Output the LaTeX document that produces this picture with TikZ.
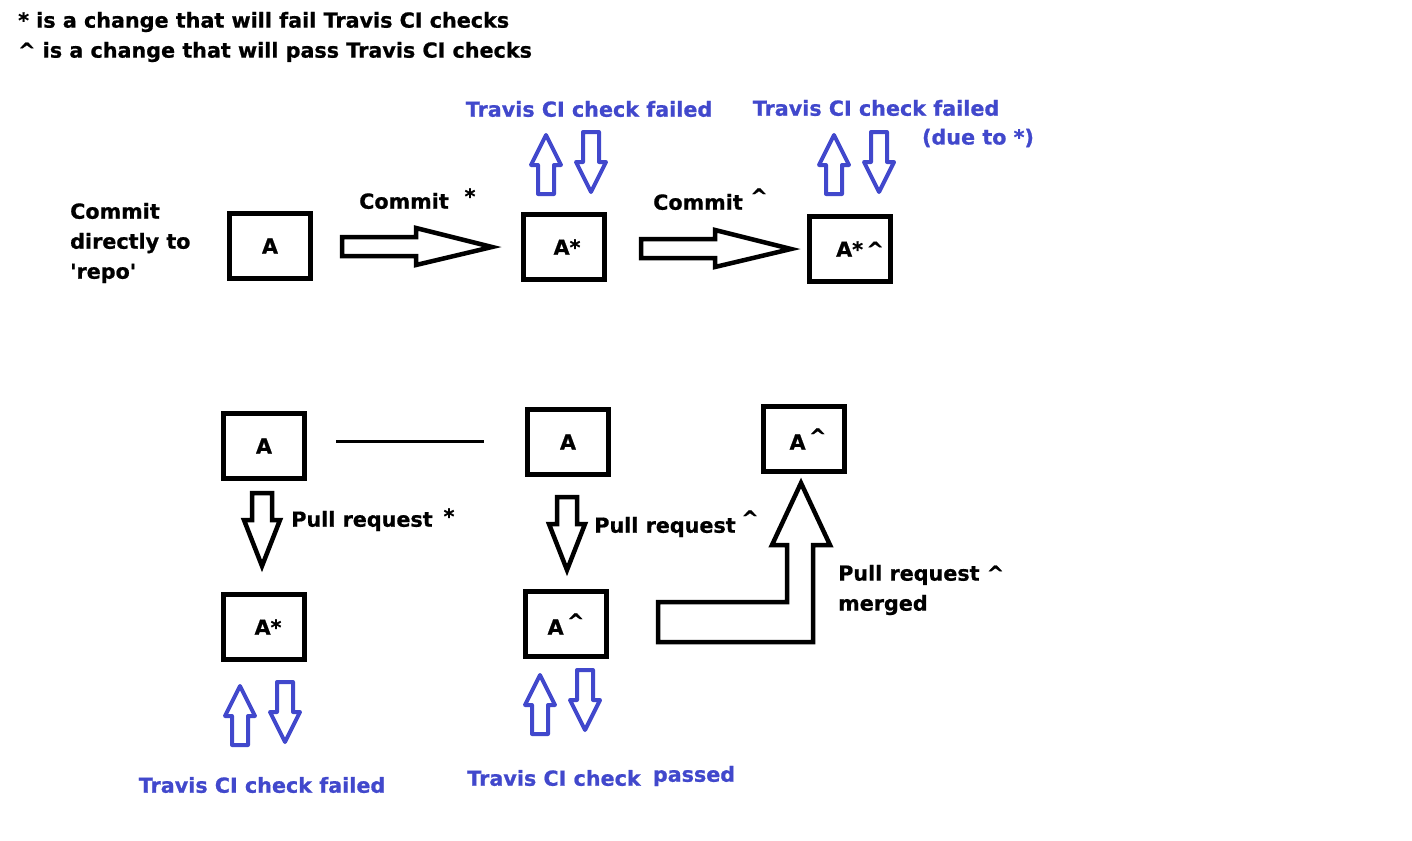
\documentclass[tikz,border=0pt]{standalone}
\usepackage{fontspec}
\setmainfont{DejaVu Sans}
\newfontfamily\hv[FakeBold=0.8]{DejaVu Sans Bold}
\definecolor{tblue}{RGB}{65,72,204}
\begin{document}
\begin{tikzpicture}[x=1pt,y=-1pt,
  txt/.style={font=\hv\fontsize{20.7}{30}\selectfont, inner sep=0pt},
  btxt/.style={txt, text=tblue},
  box/.style={draw=black, line width=5pt, minimum width=81pt, minimum height=65pt, inner sep=0pt, font=\hv\fontsize{20.7}{24}\selectfont},
  barrow/.style={draw=black, line width=4.5pt, line join=miter},
  carrow/.style={draw=tblue, line width=4pt, line join=round},
  vup/.pic={\draw[carrow] (0,0) -- (15,30) -- (8,30) -- (8,59) -- (-8,59) -- (-8,30) -- (-15,30) -- cycle;},
  vdown/.pic={\draw[carrow] (0,0) -- (15,-30) -- (8,-30) -- (8,-60) -- (-8,-60) -- (-8,-30) -- (-15,-30) -- cycle;},
  hright/.pic={\draw[barrow] (0,0) -- (-76,-19) -- (-76,-10) -- (-150,-10) -- (-150,9) -- (-76,9) -- (-76,18) -- cycle;},
  kdown/.pic={\draw[barrow] (0,0) -- (18,-46) -- (10,-46) -- (10,-73) -- (-10,-73) -- (-10,-46) -- (-18,-46) -- cycle;}
]
\useasboundingbox (0,0) rectangle (1412,840);
\fill[white] (0,0) rectangle (1412,840);

% legend
\node[txt, anchor=west] (leg1) at (18,22) {* is a change that will fail Travis CI checks};
\node[txt, anchor=west] (leg2) at (18,52) {\^{} is a change that will pass Travis CI checks};

% top row
\node[txt, anchor=west, align=left] (direct) at (70,243) {Commit\\directly to\\\textquotesingle repo\textquotesingle};
\node[box] (t1) at (270,246) {A};
\node[box] (t2) at (564,247) {\hspace*{6pt}A*};
\node[box] (t3) at (850,249) {\hspace*{20pt}A*\,\^{}};

\pic at (492,247) {hright};
\node[txt] (c1) at (404,201) {Commit};
\node[txt] (s1) at (470,196) {*};
\pic at (791,249) {hright};
\node[txt] (c2) at (698,202) {Commit};
\node[txt] (s2) at (759,196) {\^{}};

\pic at (546,135) {vup};
\pic at (591,192) {vdown};
\node[btxt] (f1) at (589,109) {Travis CI check failed};
\pic at (834,135) {vup};
\pic at (879,192) {vdown};
\node[btxt] (f2) at (876,108) {Travis CI check failed};
\node[btxt] (due) at (978,138) {(due to *)};

% bottom
\node[box] (b1) at (264,446) {A};
\node[box] (b2) at (568,442) {A};
\node[box] (b3) at (804,439) {\hspace*{8pt}A\,\raisebox{6pt}{\^{}}};
\draw[line width=3pt] (b1.east) ++(29,-5) coordinate (l1) -- (484,441) coordinate (l2);

\pic at (262,566) {kdown};
\node[txt] (p1) at (362,521) {Pull request};
\node[txt] (p1s) at (449,516) {*};
\pic at (567,570) {kdown};
\node[txt] (p2) at (665,527) {Pull request};
\node[txt] (p2s) at (750,518) {\^{}};

\node[box] (b4) at (264,627) {\hspace*{8pt}A*};
\node[box] (b5) at (566,624) {A\,\raisebox{6pt}{\^{}}};

\draw[barrow] (658,602) -- (787,602) -- (787,545) -- (772,545) -- (801,483) -- (830,545) -- (813,545) -- (813,642) -- (658,642) -- cycle;
\node[txt, anchor=west, align=left] (merged) at (838,590) {Pull request \^{}\\merged};

\pic at (240,686) {vup};
\pic at (285,742) {vdown};
\node[btxt] (f3) at (262,785) {Travis CI check failed};
\pic at (540,675) {vup};
\pic at (585,730) {vdown};
\node[btxt] (f4) at (554,778) {Travis CI check};
\node[btxt] (pass) at (694,776) {passed};
\end{tikzpicture}
\end{document}
